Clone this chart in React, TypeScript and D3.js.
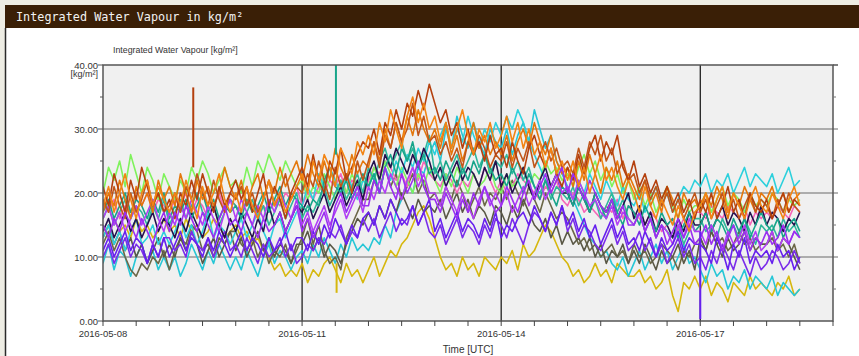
import React from "react";
import * as d3 from "d3";

// Integrated water vapour per GNSS station, sampled every 2 hours from 2016-05-08 00:00 UTC.
// One row per day (12 samples), last row runs to 2016-05-18 12:00.
const START = Date.UTC(2016, 4, 8, 0, 0);
const STEP_HOURS = 2;

const darkRed = [
  21, 18, 23, 20, 17, 22, 19, 24, 21, 18, 20, 17,
  19, 16, 20, 18, 22, 19, 23, 20, 17, 21, 18, 20,
  22, 19, 21, 17, 20, 23, 18, 21, 19, 16, 20, 22,
  24, 21, 26, 22, 20, 25, 23, 27, 22, 24, 26, 28,
  27, 30, 26, 31, 29, 33, 30, 34, 32, 36, 33, 37,
  34, 31, 33, 29, 31, 27, 30, 26, 28, 25, 29, 26,
  27, 24, 28, 25, 23, 27, 29, 26, 24, 27, 23, 21,
  24, 22, 26, 23, 27, 29, 25, 28, 26, 29, 24, 22,
  25, 21, 23, 20, 22, 19, 21, 18, 20, 17, 19, 16,
  19, 17, 20, 16, 18, 21, 17, 19, 16, 20, 18, 17,
  19, 16, 18, 20, 17, 19, 18,
];
const orange = [
  18, 21, 17, 20, 23, 19, 16, 20, 22, 18, 21, 19,
  17, 20, 18, 22, 19, 16, 21, 18, 20, 23, 19, 17,
  20, 17, 21, 18, 16, 19, 22, 18, 20, 17, 19, 21,
  23, 20, 25, 22, 26, 24, 21, 27, 25, 23, 28, 26,
  29, 26, 31, 28, 33, 30, 27, 32, 35, 31, 34, 30,
  32, 28, 31, 27, 30, 33, 29, 26, 30, 28, 31, 27,
  29, 32, 28, 31, 27, 30, 26, 28, 24, 27, 23, 25,
  22, 25, 21, 24, 20, 23, 26, 22, 24, 21, 19, 22,
  20, 17, 21, 18, 16, 19, 17, 15, 18, 16, 14, 17,
  18, 20, 16, 19, 21, 17, 20, 18, 16, 19, 21, 18,
  17, 20, 18, 16, 19, 21, 18,
];
const amber = [
  17, 20, 18, 22, 19, 16, 21, 18, 20, 17, 22, 19,
  21, 18, 23, 20, 17, 22, 19, 21, 18, 20, 24, 21,
  19, 22, 18, 21, 23, 19, 22, 20, 24, 21, 23, 25,
  22, 26, 23, 21, 25, 22, 27, 24, 22, 26, 23, 25,
  24, 28, 25, 30, 27, 31, 28, 32, 29, 33, 30, 28,
  30, 27, 31, 26, 29, 25, 28, 31, 27, 29, 26, 28,
  26, 29, 25, 28, 30, 27, 31, 28, 26, 29, 25, 23,
  24, 21, 25, 22, 26, 23, 20, 24, 22, 25, 21, 23,
  21, 19, 22, 18, 20, 17, 21, 19, 16, 20, 18, 19,
  17, 20, 18, 21, 19, 16, 20, 18, 21, 19, 17, 20,
  19, 21, 18, 20, 17, 19, 20,
];
const rust = [
  19, 17, 21, 18, 16, 20, 17, 19, 22, 18, 20, 17,
  18, 20, 17, 21, 19, 23, 20, 18, 22, 19, 17, 20,
  19, 21, 18, 20, 17, 19, 22, 18, 20, 23, 19, 21,
  20, 23, 21, 25, 22, 19, 24, 21, 23, 20, 25, 22,
  25, 28, 24, 29, 27, 31, 28, 30, 34, 29, 32, 28,
  29, 26, 28, 25, 27, 24, 28, 26, 29, 27, 24, 26,
  25, 28, 24, 27, 25, 28, 24, 26, 28, 25, 27, 24,
  25, 23, 27, 24, 28, 26, 29, 25, 27, 23, 25, 22,
  23, 20, 22, 19, 21, 18, 20, 17, 19, 16, 18, 20,
  17, 19, 16, 18, 20, 17, 19, 16, 18, 20, 17, 19,
  18, 16, 19, 17, 20, 18, 17,
];
const lightGreen = [
  20, 24, 22, 25, 21, 26, 23, 20, 24, 22, 19, 23,
  21, 19, 22, 20, 24, 22, 25, 23, 20, 22, 24, 21,
  22, 20, 24, 21, 25, 23, 26, 24, 22, 25, 23, 21,
  22, 19, 21, 20, 23, 21, 19, 22, 20, 23, 21, 22,
  21, 24, 22, 25, 23, 21, 24, 22, 20, 23, 21, 24,
  22, 20, 23, 21, 24, 22, 20, 23, 21, 22, 24, 21,
  20, 23, 21, 22, 24, 21, 23, 22, 25, 23, 24, 22,
  23, 21, 24, 26, 23, 25, 22, 24, 21, 23, 20, 22,
  19, 21, 18, 20, 17, 19, 21, 18, 16, 19, 17, 18,
  18, 20, 17, 19, 21, 18, 20, 19, 17, 20, 18, 19,
  18, 20, 19, 17, 19, 18, 19,
];
const cyanLow = [
  9, 12, 8, 11, 10, 7, 10, 12, 9, 11, 8, 10,
  8, 10, 7, 9, 12, 10, 8, 11, 9, 12, 10, 8,
  10, 8, 11, 9, 7, 10, 12, 9, 11, 10, 8, 10,
  11, 9, 12, 10, 13, 11, 9, 12, 10, 13, 11, 12,
  11, 13, 12, 15, 13, 17, 19, 22, 20, 24, 23, 26,
  28, 25, 30, 27, 32, 29, 27, 31, 28, 26, 30, 28,
  27, 30, 26, 29, 31, 28, 33, 30, 27, 29, 25, 23,
  21, 19, 17, 15, 13, 12, 10, 11, 9, 8, 10, 7,
  9, 11, 8, 10, 12, 9, 11, 8, 10, 12, 9, 10,
  8, 6, 9, 7, 8, 5, 7, 6, 8, 5, 7, 6,
  5, 7, 4, 6, 5, 4, 5,
];
const cyanHigh = [
  13, 15, 12, 14, 11, 14, 16, 12, 13, 15, 12, 14,
  12, 14, 16, 13, 15, 12, 14, 17, 13, 15, 14, 12,
  14, 16, 13, 15, 17, 14, 12, 15, 16, 13, 15, 17,
  18, 21, 19, 23, 21, 24, 22, 20, 23, 21, 19, 22,
  21, 23, 20, 24, 22, 25, 23, 26, 24, 27, 25, 28,
  26, 29, 31, 27, 30, 28, 32, 29, 27, 30, 28, 31,
  29, 32, 30, 33, 31, 28, 26, 24, 22, 21, 23, 20,
  21, 19, 22, 20, 23, 21, 19, 22, 20, 18, 21, 19,
  18, 20, 17, 19, 21, 18, 20, 17, 19, 21, 20, 22,
  21, 23, 20, 22, 21, 23, 20, 22, 24, 21, 23, 22,
  21, 23, 20, 22, 24, 21, 22,
];
const yellow = [
  15, 13, 16, 14, 15, 13, 16, 14, 15, 13, 14, 16,
  14, 15, 13, 16, 14, 15, 13, 14, 16, 15, 13, 14,
  15, 13, 14, 12, 13, 11, 10, 8, 9, 7, 8, 7,
  9, 6, 8, 7, 9, 10, 8, 6, 9, 7, 8, 6,
  8, 10, 7, 9, 11, 10, 12, 13, 15, 17, 18, 16,
  13, 10, 8, 9, 7, 10, 8, 9, 7, 10, 9, 8,
  10, 9, 11, 8, 12, 10, 11, 13, 15, 14, 12, 10,
  9, 7, 8, 6, 7, 9, 7, 8, 6, 9, 8, 7,
  7, 8, 6, 7, 5, 6, 8, 4, 1.5, 6, 5, 7,
  5, 7, 4, 6, 5, 3, 6, 5, 4, 7, 5, 6,
  5, 4, 6, 5, 7, 4, 5,
];
const olive = [
  12, 14, 11, 13, 10, 8, 7, 9, 8, 10, 9, 11,
  8, 11, 13, 12, 15, 14, 11, 12, 10, 13, 12, 14,
  14, 12, 11, 13, 10, 12, 9, 11, 10, 12, 9, 11,
  13, 16, 12, 15, 11, 9, 10, 8, 13, 15, 17, 19,
  19, 22, 20, 24, 21, 23, 19, 21, 23, 20, 22, 19,
  20, 18, 21, 19, 22, 20, 17, 19, 21, 18, 20, 19,
  21, 19, 22, 20, 18, 21, 19, 17, 20, 18, 16, 17,
  16, 14, 12, 13, 11, 12, 10, 11, 12, 10, 11, 9,
  12, 10, 11, 9, 10, 12, 11, 10, 8, 11, 10, 12,
  13, 11, 14, 12, 13, 11, 12, 14, 12, 13, 11, 12,
  12, 13, 11, 12, 10, 12, 9,
];
const grayOlive = [
  13, 15, 12, 14, 11, 13, 10, 12, 9, 11, 13, 10,
  12, 10, 13, 11, 14, 12, 9, 11, 13, 10, 12, 14,
  11, 13, 10, 12, 14, 11, 13, 10, 12, 11, 9, 12,
  12, 14, 11, 13, 10, 12, 11, 9, 12, 14, 16, 15,
  17, 15, 18, 16, 19, 17, 20, 18, 16, 19, 17, 18,
  17, 19, 16, 18, 20, 17, 19, 16, 18, 17, 15, 18,
  17, 15, 18, 16, 19, 17, 15, 14, 16, 13, 15, 12,
  14, 12, 13, 11, 13, 10, 12, 9, 11, 10, 12, 9,
  11, 9, 12, 10, 8, 11, 9, 10, 12, 9, 11, 8,
  13, 11, 14, 12, 10, 13, 11, 12, 14, 11, 13, 12,
  12, 14, 11, 13, 12, 10, 8,
];
const purple = [
  15, 13, 16, 14, 17, 15, 13, 16, 14, 12, 15, 17,
  14, 17, 15, 18, 16, 14, 17, 15, 13, 16, 18, 15,
  16, 14, 17, 15, 13, 16, 14, 15, 17, 14, 16, 18,
  14, 16, 13, 15, 17, 14, 18, 20, 17, 19, 21, 18,
  18, 22, 20, 24, 21, 19, 23, 20, 22, 25, 21, 19,
  19, 17, 20, 18, 16, 19, 17, 20, 18, 21, 19, 17,
  18, 21, 19, 17, 20, 22, 19, 21, 23, 20, 22, 24,
  20, 23, 21, 19, 22, 20, 18, 17, 19, 16, 18, 15,
  15, 17, 14, 16, 13, 15, 12, 14, 16, 13, 15, 12,
  13, 15, 12, 14, 11, 13, 15, 12, 14, 11, 13, 12,
  14, 12, 13, 15, 12, 14, 13,
];
const blueViolet = [
  11, 13, 10, 12, 14, 11, 13, 12, 9, 12, 10, 13,
  10, 12, 14, 11, 13, 12, 10, 13, 11, 14, 12, 10,
  12, 14, 11, 13, 12, 10, 13, 11, 12, 14, 11, 13,
  13, 11, 14, 12, 15, 13, 16, 14, 12, 15, 13, 16,
  17, 15, 18, 16, 19, 17, 15, 16, 18, 15, 17, 19,
  14, 16, 13, 15, 17, 14, 16, 15, 13, 16, 14, 17,
  13, 15, 14, 16, 17, 15, 18, 16, 14, 17, 15, 18,
  15, 17, 14, 16, 13, 15, 12, 14, 16, 13, 15, 12,
  13, 11, 14, 12, 10, 13, 11, 12, 14, 11, 13, 12,
  12, 11, 9, 13, 11, 8, 12, 10, 13, 9, 11, 10,
  11, 9, 12, 10, 11, 8, 10,
];
const teal = [
  17, 19, 16, 18, 20, 17, 19, 18, 16, 19, 17, 20,
  16, 18, 17, 19, 16, 18, 20, 17, 19, 16, 18, 17,
  18, 16, 19, 17, 18, 20, 17, 19, 21, 18, 20, 19,
  18, 17, 19, 18, 22, 24, 21, 20, 22, 19, 21, 23,
  21, 23, 20, 24, 26, 23, 27, 25, 28, 24, 26, 23,
  24, 22, 25, 23, 21, 24, 22, 25, 23, 26, 24, 22,
  23, 21, 24, 22, 20, 23, 21, 19, 22, 20, 18, 21,
  20, 18, 21, 19, 17, 20, 18, 16, 19, 17, 15, 18,
  17, 15, 18, 16, 14, 17, 15, 16, 13, 15, 17, 14,
  15, 17, 14, 16, 15, 13, 16, 14, 16, 13, 15, 17,
  15, 14, 16, 13, 15, 16, 14,
];
const navy = [
  14, 16, 13, 15, 17, 14, 16, 13, 15, 17, 14, 16,
  15, 13, 16, 14, 17, 15, 13, 16, 18, 15, 13, 16,
  14, 17, 15, 13, 16, 14, 18, 15, 17, 14, 16, 18,
  17, 19, 16, 18, 20, 17, 19, 21, 18, 20, 22, 19,
  23, 25, 22, 26, 24, 27, 25, 23, 26, 24, 27, 25,
  22, 24, 21, 23, 25, 22, 24, 23, 21, 24, 22, 25,
  21, 23, 20, 22, 24, 21, 19, 22, 24, 21, 23, 20,
  20, 18, 21, 19, 17, 20, 18, 17, 19, 16, 18, 20,
  16, 18, 15, 17, 14, 16, 15, 13, 16, 14, 17, 15,
  15, 17, 14, 16, 18, 15, 17, 16, 14, 17, 15, 18,
  15, 17, 16, 14, 16, 15, 17,
];
const magenta = [
  16, 18, 15, 17, 14, 16, 18, 15, 17, 19, 16, 14,
  17, 15, 18, 16, 19, 17, 15, 18, 16, 14, 17, 19,
  16, 19, 17, 15, 18, 16, 19, 17, 20, 18, 16, 19,
  15, 17, 14, 16, 18, 15, 17, 19, 16, 18, 20, 17,
  21, 19, 22, 20, 23, 21, 19, 22, 24, 21, 23, 20,
  20, 18, 21, 19, 17, 20, 18, 16, 19, 21, 18, 20,
  18, 20, 17, 19, 21, 18, 20, 22, 19, 21, 23, 20,
  21, 19, 22, 20, 18, 19, 17, 16, 18, 15, 17, 16,
  15, 17, 14, 16, 13, 15, 14, 12, 15, 13, 16, 14,
  14, 12, 15, 13, 11, 14, 12, 13, 15, 12, 14, 11,
  12, 14, 11, 13, 12, 14, 13,
];
const violet = [
  10, 12, 9, 11, 13, 10, 12, 11, 9, 12, 10, 13,
  13, 11, 12, 10, 14, 12, 11, 13, 10, 12, 14, 11,
  12, 10, 13, 11, 9, 12, 10, 11, 13, 10, 12, 9,
  10, 12, 11, 13, 12, 14, 13, 15, 12, 14, 13, 16,
  14, 16, 13, 15, 17, 14, 16, 15, 18, 15, 17, 14,
  13, 15, 12, 14, 16, 13, 15, 14, 12, 15, 13, 16,
  15, 13, 16, 14, 12, 15, 17, 16, 14, 17, 15, 18,
  14, 16, 13, 15, 14, 12, 11, 13, 15, 12, 14, 11,
  12, 14, 11, 13, 10, 12, 9, 11, 13, 10, 12, 9,
  10, 8, 11, 9, 12, 10, 8, 11, 9, 7, 10, 8,
  9, 11, 10, 8, 9, 11, 9,
];
const seaGreen = [
  16, 18, 15, 17, 19, 16, 18, 17, 15, 18, 16, 19,
  15, 17, 19, 16, 18, 20, 17, 16, 18, 15, 17, 19,
  18, 16, 17, 19, 16, 18, 15, 17, 19, 16, 18, 20,
  16, 18, 17, 19, 21, 18, 20, 22, 19, 21, 23, 20,
  24, 22, 25, 27, 24, 26, 28, 25, 27, 24, 26, 29,
  23, 25, 22, 24, 26, 23, 25, 27, 24, 26, 23, 25,
  24, 26, 23, 25, 22, 24, 21, 20, 22, 19, 21, 20,
  19, 21, 18, 20, 17, 19, 16, 18, 20, 17, 19, 16,
  15, 17, 14, 16, 13, 15, 14, 13, 15, 12, 14, 16,
  16, 14, 15, 13, 16, 14, 15, 13, 16, 14, 12, 15,
  14, 15, 13, 16, 14, 15, 13,
];
const pink = [
  18, 17, 19, 16, 18, 17, 19, 18, 20, 17, 19, 18,
  17, 19, 18, 20, 17, 19, 18, 16, 18, 20, 17, 19,
  18, 17, 19, 18, 16, 18, 17, 19, 18, 20, 19, 21,
  18, 20, 19, 21, 20, 22, 21, 23, 20, 22, 21, 19,
  22, 24, 23, 25, 24, 22, 23, 21, 24, 22, 25, 23,
  22, 21, 23, 22, 20, 22, 21, 23, 21, 24, 22, 20,
  22, 20, 21, 23, 22, 21, 20, 19, 21, 20, 22, 19,
  18, 20, 19, 17, 18, 17, 16, 18, 17, 19, 16, 18,
  17, 16, 15, 17, 16, 14, 15, 16, 14, 16, 15, 17,
  17, 16, 18, 17, 16, 18, 17, 16, 18, 15, 17, 16,
  17, 16, 18, 17, 16, 18, 17,
];

// Drawing order: first entries end up underneath.
const SERIES = [
  { name: "yellow", color: "#d6b70e", values: yellow },
  { name: "cyanLow", color: "#26c6d6", values: cyanLow },
  { name: "olive", color: "#6b6747", values: olive },
  { name: "grayOlive", color: "#5a5846", values: grayOlive },
  { name: "pink", color: "#f565b8", values: pink },
  { name: "lightGreen", color: "#7ff25c", values: lightGreen },
  { name: "cyanHigh", color: "#2cd0dc", values: cyanHigh },
  { name: "violet", color: "#7a2cea", values: violet },
  { name: "seaGreen", color: "#2fb79b", values: seaGreen },
  { name: "navy", color: "#24124e", values: navy },
  { name: "teal", color: "#17a58a", values: teal },
  { name: "magenta", color: "#b13ef5", values: magenta },
  { name: "amber", color: "#e4770c", values: amber },
  { name: "rust", color: "#c0561a", values: rust },
  { name: "blueViolet", color: "#6620ee", values: blueViolet },
  { name: "darkRed", color: "#b4400e", values: darkRed },
  { name: "purple", color: "#9a2ff0", values: purple },
  { name: "orange", color: "#f28414", values: orange },
];

// Short single-sample excursions: [series, day offset, base value, extreme value]
const SPIKES: [string, number, number, number][] = [
  ["darkRed", 1.36, 24, 36.5],
  ["teal", 3.51, 26, 40],
  ["yellow", 3.52, 9, 4.4],
  ["blueViolet", 9.0, 14, 0.3],
];

const Y_TICKS = [0, 10, 20, 30, 40];
const Y_MINOR = [5, 15, 25, 35];
const X_LABELS = ["2016-05-08", "2016-05-11", "2016-05-14", "2016-05-17"];
const X_END = "2016-05-19";

const W = 859;
const H = 356;
const M = { left: 103, right: 833, top: 65, bottom: 321 };

export default function App() {
  const x = d3
    .scaleUtc()
    .domain([new Date(X_LABELS[0] + "T00:00:00Z"), new Date(X_END + "T00:00:00Z")])
    .range([M.left, M.right]);
  const y = d3.scaleLinear().domain([0, 40]).range([M.bottom, M.top]);

  const timeAt = (i: number) => new Date(START + i * STEP_HOURS * 3600 * 1000);
  const line = d3
    .line<number>()
    .x((_, i) => x(timeAt(i)))
    .y((v) => y(v));

  const halfDays = d3.utcHour.every(12)!.range(x.domain()[0], new Date(+x.domain()[1] + 1));
  const dayLines = X_LABELS.slice(1).map((d) => new Date(d + "T00:00:00Z"));
  const font = "Arial, 'Liberation Sans', sans-serif";
  const colorOf = (n: string) => SERIES.find((s) => s.name === n)!.color;

  return (
    <svg
      width={W}
      height={H}
      style={{ position: "absolute", left: 0, top: 0, display: "block" }}
    >
      <rect x={0} y={0} width={W} height={H} fill="#eeede4" />
      <rect x={5} y={28} width={W - 5} height={H - 28} fill="#ffffff" />
      <line x1={5.5} y1={28} x2={5.5} y2={H} stroke="#2a2a2a" strokeWidth={1.5} />
      <rect x={5} y={5} width={W - 5} height={23} fill="#3a1f06" />
      <text
        x={16}
        y={21}
        fill="#f2f2f2"
        fontFamily="'DejaVu Sans Mono', monospace"
        fontSize={11.8}
      >
        Integrated Water Vapour in kg/m²
      </text>

      <text x={113} y={53} fontFamily={font} fontSize={8.8} fill="#333">
        Integrated Water Vapour [kg/m²]
      </text>

      <rect
        x={M.left}
        y={M.top}
        width={M.right - M.left}
        height={M.bottom - M.top}
        fill="#f0f0f0"
      />

      {/* horizontal grid */}
      {Y_TICKS.filter((t) => t > 0 && t < 40).map((t) => (
        <line
          key={"g" + t}
          x1={M.left}
          x2={M.right + 5}
          y1={y(t)}
          y2={y(t)}
          stroke="#6a6a6a"
          strokeWidth={1}
        />
      ))}
      {/* day separators */}
      {dayLines.map((d) => (
        <line
          key={"v" + +d}
          x1={x(d)}
          x2={x(d)}
          y1={M.top}
          y2={M.bottom}
          stroke="#111"
          strokeWidth={1.2}
        />
      ))}

      <g clipPath="url(#plotClip)">
        <defs>
          <clipPath id="plotClip">
            <rect x={M.left} y={M.top} width={M.right - M.left} height={M.bottom - M.top} />
          </clipPath>
        </defs>
        {SERIES.map((s) => (
          <path
            key={s.name}
            d={line(s.values) || ""}
            fill="none"
            stroke={s.color}
            strokeWidth={1.6}
            strokeLinejoin="round"
          />
        ))}
        {SPIKES.map(([n, day, base, peak]) => {
          const t = new Date(START + day * 86400000);
          return (
            <line
              key={n + day}
              x1={x(t)}
              x2={x(t)}
              y1={y(base)}
              y2={y(peak)}
              stroke={colorOf(n)}
              strokeWidth={2}
            />
          );
        })}
      </g>

      {/* frame */}
      <rect
        x={M.left}
        y={M.top}
        width={M.right - M.left}
        height={M.bottom - M.top}
        fill="none"
        stroke="#555"
        strokeWidth={1.5}
      />
      <line x1={M.right} x2={M.right + 5} y1={M.top} y2={M.top} stroke="#555" strokeWidth={1.5} />

      {/* y axis ticks and labels */}
      {Y_TICKS.map((t) => (
        <g key={"y" + t}>
          <line x1={M.left - 5} x2={M.left} y1={y(t)} y2={y(t)} stroke="#555" />
          <text
            x={98}
            y={y(t) + 3.5}
            textAnchor="end"
            fontFamily={font}
            fontSize={9.5}
            fill="#333"
          >
            {t.toFixed(2)}
          </text>
        </g>
      ))}
      {Y_MINOR.map((t) => (
        <g key={"ym" + t}>
          <line x1={M.left - 3} x2={M.left} y1={y(t)} y2={y(t)} stroke="#555" />
          <line x1={M.right} x2={M.right + 3} y1={y(t)} y2={y(t)} stroke="#777" />
        </g>
      ))}
      <text x={98} y={y(40) + 12} textAnchor="end" fontFamily={font} fontSize={9} fill="#333">
        [kg/m²]
      </text>

      {/* x axis ticks and labels */}
      {halfDays.map((d) => (
        <line
          key={"xt" + +d}
          x1={x(d)}
          x2={x(d)}
          y1={M.bottom}
          y2={M.bottom + 5}
          stroke="#444"
        />
      ))}
      {X_LABELS.map((lab) => (
        <text
          key={lab}
          x={x(new Date(lab + "T00:00:00Z"))}
          y={337}
          textAnchor="middle"
          fontFamily={font}
          fontSize={9.5}
          fill="#333"
        >
          {lab}
        </text>
      ))}
      <text x={468} y={353} textAnchor="middle" fontFamily={font} fontSize={10} fill="#333">
        Time [UTC]
      </text>
    </svg>
  );
}
